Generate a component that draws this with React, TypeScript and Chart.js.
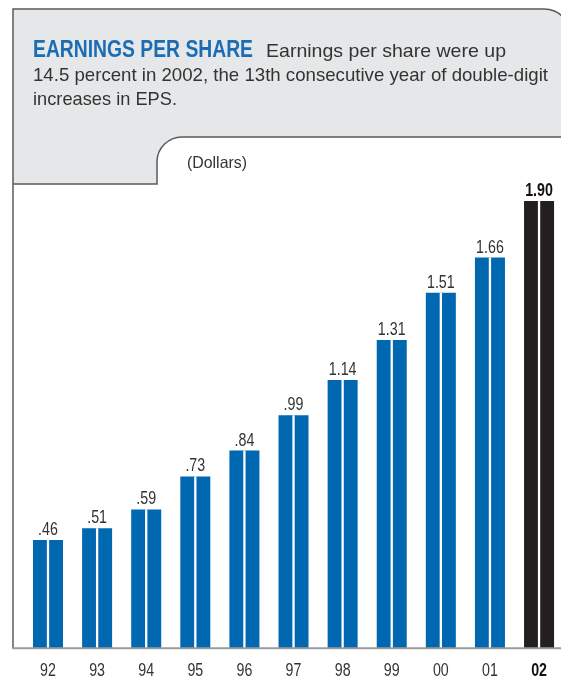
import React, { useEffect, useRef } from "react";
import { Chart, registerables } from "chart.js";

Chart.register(...registerables);

const years = ["92", "93", "94", "95", "96", "97", "98", "99", "00", "01", "02"];
const eps = [0.46, 0.51, 0.59, 0.73, 0.84, 0.99, 1.14, 1.31, 1.51, 1.66, 1.9];
const valueLabels = [".46", ".51", ".59", ".73", ".84", ".99", "1.14", "1.31", "1.51", "1.66", "1.90"];
const barColors = ["#0067b1", "#0067b1", "#0067b1", "#0067b1", "#0067b1", "#0067b1", "#0067b1", "#0067b1", "#0067b1", "#0067b1", "#231f20"];

const titleText = "EARNINGS PER SHARE";
const bodyLines = [
  "Earnings per share were up",
  "14.5 percent in 2002, the 13th consecutive year of double-digit",
  "increases in EPS.",
];
const unitText = "(Dollars)";

const FAMILY = '"Liberation Sans", Arial, sans-serif';
const NARROW_X = 0.77;

function fitText(ctx: CanvasRenderingContext2D, text: string, x: number, y: number, font: string, width: number, color: string) {
  ctx.save();
  ctx.font = font;
  const m = ctx.measureText(text).width;
  const sx = m > 0 ? width / m : 1;
  ctx.translate(x, y);
  ctx.scale(sx, 1);
  ctx.fillStyle = color;
  ctx.textAlign = "left";
  ctx.textBaseline = "alphabetic";
  ctx.fillText(text, 0, 0);
  ctx.restore();
}

function narrowText(ctx: CanvasRenderingContext2D, text: string, cx: number, y: number, font: string, color: string) {
  ctx.save();
  ctx.font = font;
  ctx.translate(cx, y);
  ctx.scale(NARROW_X, 1);
  ctx.fillStyle = color;
  ctx.textAlign = "center";
  ctx.textBaseline = "alphabetic";
  ctx.fillText(text, 0, 0);
  ctx.restore();
}

const framePlugin = {
  id: "frame",
  beforeDraw(chart: any) {
    const ctx: CanvasRenderingContext2D = chart.ctx;
    const yAxis = chart.scales.y.getPixelForValue(0);
    ctx.save();
    ctx.fillStyle = "#ffffff";
    ctx.fillRect(0, 0, chart.width, chart.height);
    const L = 13, T = 9, R = 571, r1 = 27, tabY = 137, tabX = 157, r2 = 25, botY = 184;
    ctx.beginPath();
    ctx.moveTo(L, botY);
    ctx.lineTo(L, T);
    ctx.lineTo(R - r1, T);
    ctx.arc(R - r1, T + r1, r1, -Math.PI / 2, 0);
    ctx.lineTo(R, tabY);
    ctx.lineTo(tabX + r2, tabY);
    ctx.arc(tabX + r2, tabY + r2, r2, -Math.PI / 2, Math.PI, true);
    ctx.lineTo(tabX, botY);
    ctx.closePath();
    ctx.fillStyle = "#e6e7e8";
    ctx.fill();
    ctx.strokeStyle = "#5a5b5d";
    ctx.lineWidth = 1.5;
    ctx.beginPath();
    ctx.moveTo(L, yAxis);
    ctx.lineTo(L, T);
    ctx.lineTo(R - r1, T);
    ctx.arc(R - r1, T + r1, r1, -Math.PI / 2, 0);
    ctx.lineTo(R, tabY);
    ctx.lineTo(tabX + r2, tabY);
    ctx.arc(tabX + r2, tabY + r2, r2, -Math.PI / 2, Math.PI, true);
    ctx.lineTo(tabX, botY);
    ctx.lineTo(L, botY);
    ctx.stroke();
    fitText(ctx, titleText, 33, 57, `bold 24px ${FAMILY}`, 220, "#1a6db5");
    fitText(ctx, bodyLines[0], 266, 57, `19px ${FAMILY}`, 240, "#333333");
    fitText(ctx, bodyLines[1], 33, 80.5, `19px ${FAMILY}`, 515, "#333333");
    fitText(ctx, bodyLines[2], 33, 104.5, `19px ${FAMILY}`, 144, "#333333");
    fitText(ctx, unitText, 187, 168, `16.5px ${FAMILY}`, 60, "#333333");
    ctx.restore();
  },
  afterDatasetsDraw(chart: any) {
    const ctx: CanvasRenderingContext2D = chart.ctx;
    const meta = chart.getDatasetMeta(0);
    const xScale = chart.scales.x;
    const yAxis = chart.scales.y.getPixelForValue(0);
    ctx.save();
    meta.data.forEach((bar: any, i: number) => {
      ctx.fillStyle = "#ffffff";
      ctx.fillRect(bar.x - 1.15, bar.y, 2.3, bar.base - bar.y);
      const last = i === meta.data.length - 1;
      narrowText(ctx, valueLabels[i], bar.x, bar.y - 5, `${last ? "bold " : ""}18.5px ${FAMILY}`, last ? "#111111" : "#333333");
    });
    years.forEach((lab, i) => {
      const last = i === years.length - 1;
      narrowText(ctx, lab, xScale.getPixelForValue(i), 675.5, `${last ? "bold " : ""}18.5px ${FAMILY}`, last ? "#111111" : "#333333");
    });
    ctx.strokeStyle = "#9a9b9d";
    ctx.lineWidth = 2;
    ctx.beginPath();
    ctx.moveTo(12.25, yAxis);
    ctx.lineTo(chart.width, yAxis);
    ctx.stroke();
    ctx.restore();
  },
};

export default function App() {
  const ref = useRef<HTMLCanvasElement | null>(null);
  useEffect(() => {
    if (!ref.current) return;
    const chart = new Chart(ref.current, {
      type: "bar",
      data: {
        labels: years,
        datasets: [
          {
            data: eps,
            backgroundColor: barColors,
            borderWidth: 0,
            barPercentage: 0.611,
            categoryPercentage: 1,
          },
        ],
      },
      options: {
        animation: false,
        responsive: false,
        devicePixelRatio: 1,
        layout: { padding: { left: 23.45, right: 36.4, top: 177.5, bottom: 0 } },
        plugins: { legend: { display: false }, tooltip: { enabled: false } },
        scales: {
          x: {
            grid: { display: false, drawTicks: false },
            border: { display: false },
            ticks: { display: false },
            afterFit: (scale: any) => {
              scale.height = 28.7;
            },
          },
          y: {
            display: false,
            min: 0,
            max: 2.0,
          },
        },
      },
      plugins: [framePlugin],
    });
    return () => chart.destroy();
  }, []);
  return (
    <div style={{ position: "absolute", left: 0, top: 0, width: 561, height: 677, overflow: "hidden", background: "#fff" }}>
      <canvas ref={ref} width={600} height={677} style={{ display: "block", width: 600, height: 677 }} />
    </div>
  );
}
